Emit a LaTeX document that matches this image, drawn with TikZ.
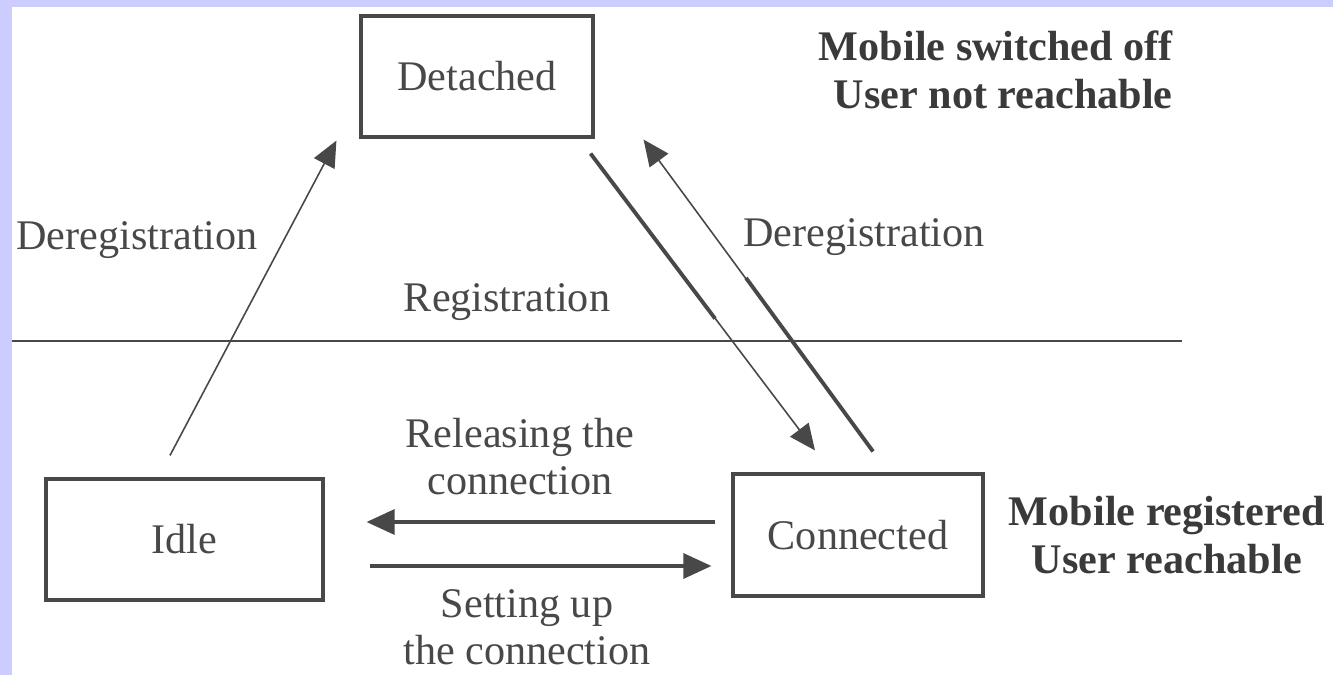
\documentclass[tikz,border=0pt]{standalone}
\usepackage{xcolor}
\usepackage{fontspec}
\setmainfont{Liberation Serif}
\usepackage{tikz}
\usetikzlibrary{arrows.meta,positioning}
\definecolor{FrameLavender}{HTML}{CCCCFF}
\definecolor{InkGray}{HTML}{484848}
\tikzset{
  statebox/.style={
    draw=InkGray,
    line width=1.8pt,
    align=center,
    text=InkGray,
    font=\fontsize{24}{27}\selectfont,
    minimum height=2.42cm,
    inner sep=0pt
  },
  lbl/.style={
    align=center,
    text=InkGray,
    font=\fontsize{24}{27}\selectfont,
    inner sep=0pt
  },
  note/.style={
    align=center,
    text=InkGray!80!black,
    font=\fontsize{24}{27}\selectfont\bfseries,
    inner sep=0pt
  },
  arrow/.style={-{Triangle[length=0.56cm,width=0.5cm]}, draw=InkGray, fill=InkGray, line width=1.8pt},
  thinarrow/.style={-{Triangle[length=0.52cm,width=0.46cm]}, draw=InkGray, fill=InkGray, line width=0.9pt},
  heavyline/.style={draw=InkGray, line width=2.2pt},
  divider/.style={draw=InkGray, line width=1.6pt}
}

\begin{document}
\begin{tikzpicture}
  \useasboundingbox (0,0) rectangle (26.66,-13.5);
  \fill[FrameLavender] (0,0) rectangle (26.66,-13.5);
  \fill[white] (0.24,-0.14) rectangle (26.66,-13.5);

  \node[statebox, minimum width=4.64cm] (detached) at (9.54,-1.53) {Detached};
  \node[statebox, minimum width=5.54cm] (idle) at (3.69,-10.79) {Idle};
  \node[statebox, minimum width=5.00cm, minimum height=2.44cm] (connected) at (17.16,-10.70) {Connected};

  \node[note, align=right, right=4.48cm of detached, yshift=0.13cm] (offnote)
    {Mobile switched off\\User not reachable};
  \node[note, right=0.48cm of connected] (regnote)
    {Mobile registered\\User reachable};

  \node[lbl] (leftdereg) at (2.74,-4.80) {Deregistration};
  \node[lbl] (rightdereg) at (17.28,-4.74) {Deregistration};
  \node[lbl] (regtext) at (10.14,-6.04) {Registration};
  \node[lbl] (releasetext) at (10.40,-9.13) {Releasing the\\connection};
  \node[lbl] (setuptext) at (10.54,-12.54) {Setting up\\the connection};

  \coordinate (divleft) at (0.24,-6.82);
  \coordinate (divright) at (23.64,-6.82);
  \draw[divider] (divleft) -- (divright);

  \draw[thinarrow] ([xshift=-0.29cm,yshift=0.44cm]idle.north) -- ([xshift=-0.46cm,yshift=-0.04cm]detached.south west);

  \draw[thinarrow] ([xshift=-0.08cm,yshift=-0.30cm]detached.south east) -- ([xshift=-0.86cm,yshift=0.44cm]connected.north);
  \draw[heavyline] ([xshift=-0.08cm,yshift=-0.30cm]detached.south east) -- ++(2.49,-3.30);

  \draw[thinarrow] ([xshift=0.30cm,yshift=0.42cm]connected.north) -- ([xshift=0.98cm,yshift=-0.02cm]detached.south east);
  \draw[heavyline] ([xshift=0.30cm,yshift=0.42cm]connected.north) -- ++(-2.54,3.47);

  \draw[arrow, shorten <=0.32cm, shorten >=0.84cm] ([yshift=0.26cm]connected.west) -- ([yshift=0.26cm]connected.west -| idle.east);
  \draw[arrow, shorten <=0.90cm, shorten >=0.40cm] ([yshift=-0.62cm]connected.west -| idle.east) -- ([yshift=-0.62cm]connected.west);
\end{tikzpicture}
\end{document}
